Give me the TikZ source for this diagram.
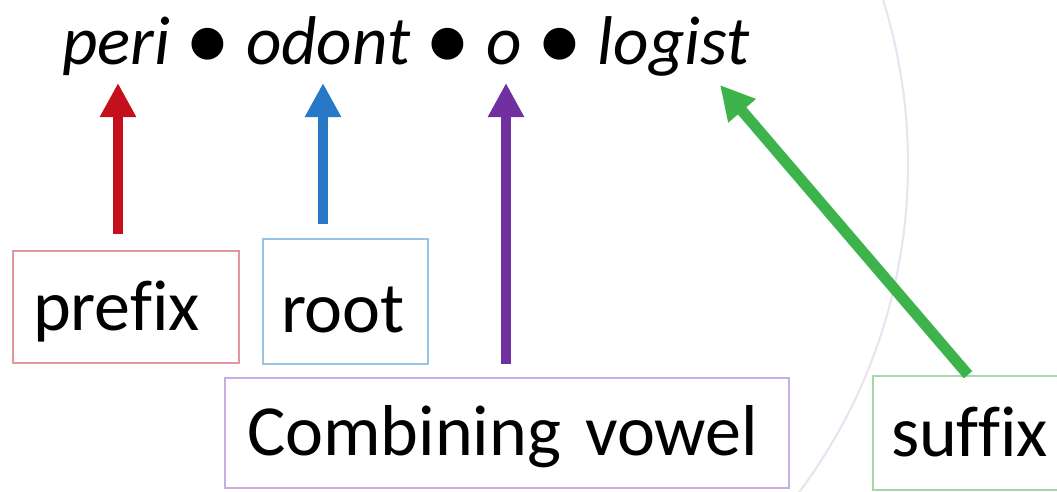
\documentclass[tikz,border=0pt]{standalone}
\usepackage{fontspec}
\setmainfont{Carlito}[Ligatures=NoCommon]
\usetikzlibrary{arrows.meta}

\definecolor{pfxred}{RGB}{196,16,28}
\definecolor{rootblue}{RGB}{40,120,200}
\definecolor{vowpurple}{RGB}{112,48,160}
\definecolor{sfxgreen}{RGB}{60,180,75}
\definecolor{pfxedge}{RGB}{228,150,155}
\definecolor{rootedge}{RGB}{150,195,230}
\definecolor{vowedge}{RGB}{200,175,225}
\definecolor{sfxedge}{RGB}{165,215,170}
\definecolor{ringgray}{RGB}{230,228,240}

% large separator dot between word parts
\newcommand\partdot{\raisebox{-5pt}{\fontsize{90}{90}\selectfont\upshape •}}

\tikzset{
  partbox/.style={draw, line width=2.5pt, rectangle, align=left,
    font=\fontsize{72}{86}\selectfont, inner ysep=0pt, text depth=0pt},
  partarrow/.style={line width=10pt,
    -{Triangle[width=34pt,length=34pt]}},
}

\begin{document}
\begin{tikzpicture}[x=1pt,y=-1pt]
  \useasboundingbox (0,0) rectangle (1057,491);
  \clip (0,0) rectangle (1057,491);
  \fill[white] (0,0) rectangle (1057,491);

  % faint ring in the background
  \draw[ringgray, line width=2pt] (359,164) circle[radius=549pt];

  % the word, split into its parts
  \node[anchor=base west, inner sep=0pt,
        font=\fontsize{69}{82}\selectfont\itshape] (word) at (62,64)
        {peri \partdot\ odont \partdot\ o \partdot\ logist};

  % labelled boxes
  \node[partbox, draw=pfxedge, minimum height=112pt,
        inner xsep=20pt, text width=186pt, text height=46pt]
        (prefix) at (126,307) {prefix};
  \node[partbox, draw=rootedge, minimum height=125pt,
        inner xsep=18pt, text width=129pt, text height=61pt]
        (root) at (345.5,301.5) {root};
  \node[partbox, draw=vowedge, minimum height=110pt,
        inner xsep=22pt, text width=520pt, text height=44pt]
        (vowel) at (507,433) {Combining vowel};
  \node[partbox, draw=sfxedge, minimum height=114pt,
        inner xsep=18pt, text width=170pt, text height=46pt]
        (suffix) at (976,433) {suffix};

  % arrow tips under the word
  \coordinate (atperi) at (118,83);
  \coordinate (atodont) at (323,83);
  \coordinate (ato) at (506,83);
  \coordinate (atlogist) at (720,85);

  % arrows from each box up to its part
  \draw[partarrow, pfxred] ([xshift=-8pt,yshift=16pt]prefix.north) -- (atperi);
  \draw[partarrow, rootblue] ([xshift=-22.5pt,yshift=14pt]root.north) -- (atodont);
  \draw[partarrow, vowpurple] ([xshift=-1pt,yshift=13pt]vowel.north) -- (ato);
  \draw[partarrow, sfxgreen, line width=11pt] ([xshift=-8pt]suffix.north) -- (atlogist);
\end{tikzpicture}
\end{document}
